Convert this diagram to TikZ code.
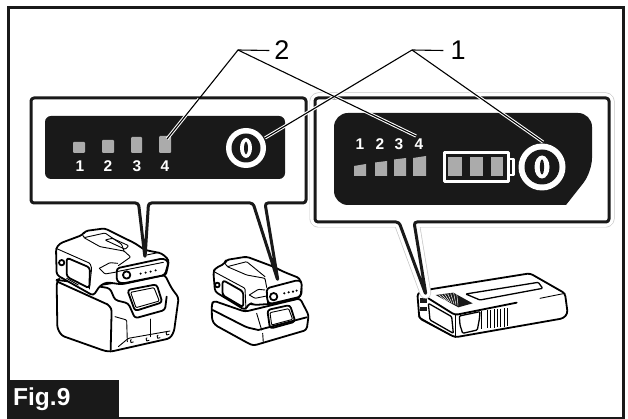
\documentclass[tikz,border=0pt]{standalone}
\usepackage{fontspec}
\usetikzlibrary{calc}
\setmainfont{Liberation Sans}
\definecolor{panel}{HTML}{191919}
\definecolor{led}{HTML}{ABABAB}
\begin{document}
\begin{tikzpicture}[x=1pt,y=-1pt,
  bat/.style={line width=1.8pt,line join=round,line cap=round,rounded corners=3pt},
  batf/.style={bat,fill=white},
  thin1/.style={line width=0.9pt,line join=round,line cap=round,rounded corners=1pt},
  callout/.style={line width=3pt,draw=panel,rounded corners=3pt,line join=round},
  leader/.style={line width=1.1pt,black},
  halo/.style={line width=3.2pt,white},
  led1/.style={fill=led,rounded corners=1pt},
  digit/.style={text=white,font=\bfseries\fontsize{15.5}{16}\selectfont,inner sep=0pt},
  num/.style={font=\fontsize{27}{27}\selectfont,inner sep=0pt,text=black},
  z3/.style={shift={#1},x=0.3333pt,y=-0.3333pt}]
\useasboundingbox (0,0) rectangle (628,419);
\draw[line width=2.6pt,draw=panel,fill=white] (8.2,7.5) rectangle (623.7,417.8);
\fill[panel] (7,380) rectangle (119,419);
\node[text=white,font=\bfseries\fontsize{24.5}{25}\selectfont,inner sep=0pt,anchor=west] (fig) at (13,399.5) {Fig.9};

% --- large battery
\begin{scope}[z3={(50,225)}]
\draw[batf] (20,165) -- (28,162) -- (20,172) -- (22,310) -- (35,332) -- (165,378) -- (182,380) -- (360,340) -- (372,320) -- (386,218) -- (365,190) -- (345,150) -- (150,180) -- cycle;
\draw[batf] (20,150) -- (18,70) -- (30,55) -- (97,30) -- (106,18) -- (165,10) -- (180,18) -- (255,55) -- (285,75) -- (335,85) -- (357,105) -- (350,142) -- (345,150) -- (215,178) -- (170,172) -- (150,182) -- (130,212) -- cycle;
\draw[batf] (200,130) -- (340,100) -- (356,110) -- (345,150) -- (215,176) -- (200,168) -- cycle;
\draw[thin1] (18,70) -- (120,115) -- (125,130) -- (118,192);
\draw[bat] (50,98) -- (120,128) -- (118,190) -- (50,155) -- cycle;
\draw[thin1] (98,30) -- (102,38) -- (165,24) -- (215,58) -- (222,78);
\draw[thin1] (102,38) -- (150,65) -- (222,78) -- (242,96) -- (205,122);
\draw[thin1] (165,45) -- (187,40) -- (236,62) -- (226,73) -- cycle;
\draw[thin1] (148,130) -- (180,113) -- (203,115);
\draw[thin1] (148,130) -- (165,147) -- (200,141);
\draw[thin1] (290,90) -- (328,82);
\draw[bat] (35,113) circle[radius=8];
\draw[bat] (230,150) circle[radius=11];
\foreach \x/\y in {272/146,287/143,302/140,317/136} \fill (\x,\y) circle[radius=3.5];
\draw[thin1] (200,140) -- (340,112);
\draw[bat] (172,238) -- (185,250) -- (182,375);
\draw[bat] (22,170) -- (172,238);
\draw[thin1] (50,160) -- (85,180);
\draw[bat] (150,185) -- (180,190) -- (195,225) -- (235,235) -- (255,280) -- (345,255) -- (350,215);
\draw[bat] (232,195) -- (320,178) -- (337,232) -- (255,258) -- cycle;
\draw[thin1] (242,202) -- (312,188) -- (328,228) -- (258,248) -- cycle;
\draw[thin1] (195,275) -- (230,285) -- (232,350);
\draw[thin1] (300,282) -- (300,335);
\draw[thin1] (205,365) -- (235,340) -- (360,318);
\foreach \x/\y in {245/355,292/350,325/342,352/332} \draw[thin1] (\x+5,\y-4) arc[start angle=30,end angle=250,radius=5];
\end{scope}

% --- small battery
\begin{scope}[z3={(190,230)}]
\draw[batf] (65,225) -- (70,212) -- (165,245) -- (330,205) -- (356,255) -- (350,300) -- (190,347) -- (175,340) -- (75,285) -- (66,270) -- cycle;
\draw[batf] (75,185) -- (70,125) -- (76,115) -- (105,100) -- (108,90) -- (170,80) -- (250,110) -- (280,125) -- (330,145) -- (336,190) -- (325,206) -- (240,222) -- (190,225) -- (180,218) -- (165,240) -- cycle;
\draw[batf] (230,175) -- (325,150) -- (336,156) -- (332,200) -- (240,222) -- (232,215) -- cycle;
\draw[thin1] (72,125) -- (165,175) -- (168,238);
\draw[bat] (98,150) -- (160,185) -- (160,232) -- (97,195) -- cycle;
\draw[thin1] (105,100) -- (112,110) -- (170,95) -- (225,140);
\draw[thin1] (112,110) -- (170,135) -- (225,145) -- (230,172);
\draw[thin1] (178,195) -- (205,178) -- (225,180);
\draw[thin1] (178,195) -- (195,205) -- (230,198);
\draw[bat] (82,165) circle[radius=7];
\draw[bat] (251,200) circle[radius=11];
\foreach \x/\y in {283/190,296/187,309/185,320/182} \fill (\x,\y) circle[radius=3.5];
\draw[bat] (68,240) -- (170,292) -- (205,300);
\draw[bat] (205,300) -- (350,262);
\draw[bat] (232,240) -- (300,225) -- (316,275) -- (240,296) -- cycle;
\draw[thin1] (240,248) -- (296,236) -- (308,268) -- (245,285) -- cycle;
\draw[thin1] (218,310) -- (220,338);
\draw[thin1] (200,250) -- (215,300);
\end{scope}

% --- flat battery
\begin{scope}[z3={(400,250)}]
\draw[batf] (90,118) -- (390,70) -- (495,130) -- (503,190) -- (490,205) -- (165,262) -- (58,205) -- (52,130) -- cycle;
\draw[bat] (85,145) -- (165,195) -- (350,158);
\draw[thin1] (420,145) -- (495,130);
\draw[thin1] (165,195) -- (165,262);
\fill[panel] (107,135) -- (160,128) -- (218,160) -- (175,172) -- cycle;
\foreach \i in {1,...,7} \draw[white,line width=0.5pt] ({107+\i*9},{135-\i*0.9+0}) -- ({132+\i*6},{150+\i*2.4-0});
\draw[thin1,line width=1.3pt] (197,132) -- (415,97) -- (428,115) -- (240,150) -- cycle;
\draw[thin1,line width=1.3pt] (85,160) -- (155,200) -- (160,250) -- (90,210) -- cycle;
\draw[thin1,line width=1.3pt] (178,198) -- (240,185) -- (238,208) -- (232,240) -- (188,250) -- (180,225) -- cycle;
\foreach \x in {262,272,282,292,302,312,322} \draw[line width=0.9pt] (\x,{180-(\x-262)*0.1}) -- (\x,{235-(\x-262)*0.1});
\draw[line width=1.4pt] (244,183) -- (244,238);
\fill[panel] (60,145) rectangle (80,160);
\fill[panel] (60,170) rectangle (80,182);
\draw[thin1] (55,200) -- (150,255);
\end{scope}

% --- callouts
\draw[callout,fill=white] (31,98) -- (306,98) -- (306,203) -- (265,203) -- (278,281) -- (253,203) -- (148.5,203) -- (145,258) -- (138.5,203) -- (31,203) -- cycle;
\fill[panel,rounded corners=6pt] (45,116) rectangle (285,179);
\fill[led1] (73,142) rectangle (85,153);
\fill[led1] (102,140) rectangle (114,153);
\fill[led1] (131,137) rectangle (142,153);
\fill[led1] (159,136) rectangle (171,153);
\node[digit] (a1) at (80,166) {1};
\node[digit] (a2) at (108,166) {2};
\node[digit] (a3) at (137,166) {3};
\node[digit] (a4) at (165,166) {4};

\draw[callout,line width=11pt,draw=black!22] (315,98) -- (609,98) -- (609,222) -- (414,222) -- (426,295) -- (399,222) -- (315,222) -- cycle;
\draw[callout,line width=9.6pt,draw=white,fill=white] (315,98) -- (609,98) -- (609,222) -- (414,222) -- (426,295) -- (399,222) -- (315,222) -- cycle;
\draw[callout] (315,98) -- (609,98) -- (609,222) -- (414,222) -- (426,295) -- (399,222) -- (315,222) -- cycle;
\fill[panel,rounded corners=14pt] (334,113) -- (592,113) -- (592,172) {[sharp corners] -- (566,205)} -- (334,205) -- cycle;
\fill[led] (354,166) -- (366,164) -- (366,176) -- (354,176) -- cycle;
\fill[led] (375,162.5) -- (387,161) -- (387,176) -- (375,176) -- cycle;
\fill[led] (394,159.5) -- (406,158) -- (406,176) -- (394,176) -- cycle;
\fill[led] (413,158) -- (426,156) -- (426,176) -- (413,176) -- cycle;
\node[digit] (b1) at (360,144) {1};
\node[digit] (b2) at (380,144) {2};
\node[digit] (b3) at (399,144) {3};
\node[digit] (b4) at (419,144) {4};
% battery icon
\draw[white,line width=3pt,line join=round] (444.5,152.5) rectangle (508,181.5);
\draw[white,line width=2.6pt,line join=round] (508,159) -- (513.5,159) -- (513.5,175) -- (508,175);
\fill[led] (448,157) rectangle (461.5,176);
\fill[led] (470,157) rectangle (483,176);
\fill[led] (491,157) rectangle (503,176);

% --- buttons
\node[circle,fill=white,minimum size=40pt,inner sep=0pt] (btnA) at (246,148) {};
\fill[panel] (246,148) circle[radius=14.5];
\fill[white] (246,148) ellipse[x radius=6,y radius=10];
\fill[panel] (246,148) ellipse[x radius=1.9,y radius=6.5];
\node[circle,fill=white,minimum size=47pt,inner sep=0pt] (btnB) at (542,167) {};
\fill[panel] (542,167) circle[radius=17.5];
\fill[white] (542,167) ellipse[x radius=7.5,y radius=11.5];
\fill[panel] (542,167) ellipse[x radius=2.1,y radius=7.5];

% --- leaders
\coordinate (apexTwo) at (238,50);
\coordinate (apexOne) at (412,50);
\coordinate (ledFourA) at (167,139);
\coordinate (ledFourB) at (416,136);
\coordinate (btnEndA) at (265,138);
\coordinate (btnEndB) at (543,142);
\node[num] (two) at (282,50.5) {2};
\node[num] (one) at (458,50.5) {1};
\draw[halo] ($(apexTwo)!0.55!(ledFourA)$) -- (ledFourA);
\draw[halo] ($(apexTwo)!0.45!(ledFourB)$) -- (ledFourB);
\draw[halo] ($(apexOne)!0.45!(btnEndA)$) -- (btnEndA);
\draw[halo] ($(apexOne)!0.4!(btnEndB)$) -- (btnEndB);
\draw[leader] (two.west) ++(-5,0) -- (apexTwo) -- (ledFourA);
\draw[leader] (apexTwo) -- (ledFourB);
\draw[leader] (one.west) ++(-7,0) -- (apexOne) -- (btnEndA);
\draw[leader] (apexOne) -- (btnEndB);
\end{tikzpicture}
\end{document}
